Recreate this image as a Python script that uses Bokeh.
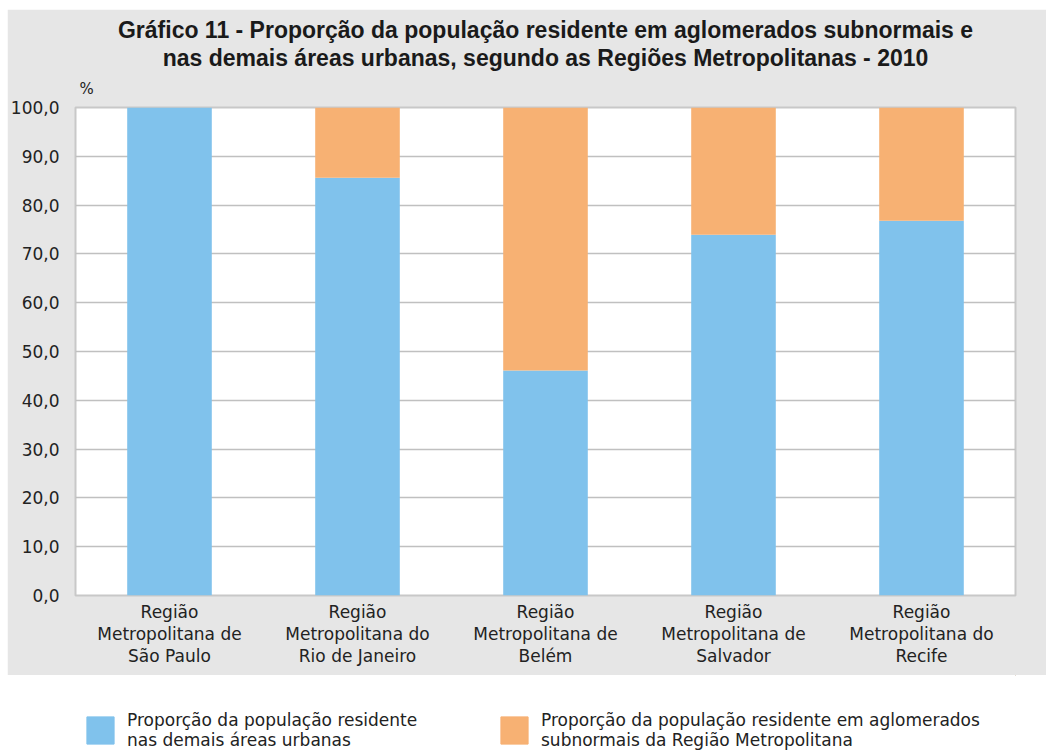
from bokeh.plotting import figure
from bokeh.models import (ColumnDataSource, FactorRange, Range1d, FixedTicker,
                          Title, Legend, LegendItem)
from bokeh.layouts import column
from bokeh.embed import file_html
from bokeh.resources import INLINE

# Regions (multi-line tick labels)
regions = [
    "Região\nMetropolitana de\nSão Paulo",
    "Região\nMetropolitana do\nRio de Janeiro",
    "Região\nMetropolitana de\nBelém",
    "Região\nMetropolitana de\nSalvador",
    "Região\nMetropolitana do\nRecife",
]
# Share of residents in the other urban areas (%)
demais_areas = [100.0, 85.6, 46.1, 73.9, 76.8]
# Share of residents in subnormal agglomerations (%)
aglomerados = [0.0, 14.4, 53.9, 26.1, 23.2]

y_ticks = [0, 10, 20, 30, 40, 50, 60, 70, 80, 90, 100]
y_tick_labels = ["0,0", "10,0", "20,0", "30,0", "40,0", "50,0",
                 "60,0", "70,0", "80,0", "90,0", "100,0"]

title_line1 = "Gráfico 11 - Proporção da população residente em aglomerados subnormais e"
title_line2 = "nas demais áreas urbanas, segundo as Regiões Metropolitanas - 2010"
label_demais = "Proporção da população residente\nnas demais áreas urbanas"
label_aglom = "Proporção da população residente em aglomerados\nsubnormais da Região Metropolitana"

BLUE = "#80c2ec"
ORANGE = "#f7b173"
PANEL = "#e6e6e6"
BODY_FONT = "DejaVu Sans"
TEXT = "#222222"

source = ColumnDataSource(dict(regiao=regions, demais=demais_areas, aglom=aglomerados))

p = figure(
    width=1039, height=666,
    x_range=FactorRange(*regions), y_range=Range1d(0, 100),
    output_backend="svg", toolbar_location=None,
    min_border_left=67, min_border_right=31, min_border_top=98, min_border_bottom=80,
)
p.margin = (9, 0, 0, 7)
p.border_fill_color = PANEL
p.background_fill_color = "white"
p.outline_line_color = "#c8c8c8"
p.outline_line_width = 2

p.vbar_stack(["demais", "aglom"], x="regiao", width=0.45, source=source,
             color=[BLUE, ORANGE], line_color=None)

# Unit marker and two-line heading above the frame (innermost first)
p.add_layout(Title(text="%", align="left", offset=4, standoff=19,
                   text_font=BODY_FONT, text_font_size="15px",
                   text_font_style="normal", text_color=TEXT), "above")
for line, gap in [(title_line2, -5), (title_line1, 6)]:
    p.add_layout(Title(text=line, align="center", standoff=gap,
                       text_font="Liberation Sans", text_font_size="23px",
                       text_font_style="bold", text_line_height=0.9,
                       text_color="#1a1a1a"), "above")

# Y axis
p.yaxis.ticker = FixedTicker(ticks=y_ticks)
p.yaxis.major_label_overrides = {t: s for t, s in zip(y_ticks, y_tick_labels)}
p.yaxis.axis_line_color = None
p.yaxis.major_tick_line_color = None
p.yaxis.minor_tick_line_color = None
p.yaxis.major_label_standoff = 10
p.yaxis.major_label_text_font = BODY_FONT
p.yaxis.major_label_text_font_size = "17px"
p.yaxis.major_label_text_color = TEXT

# X axis
p.xaxis.axis_line_color = None
p.xaxis.major_tick_line_color = None
p.xaxis.minor_tick_line_color = None
p.xaxis.major_label_standoff = 0
p.xaxis.major_label_text_font = BODY_FONT
p.xaxis.major_label_text_font_size = "17px"
p.xaxis.major_label_text_line_height = 1.12
p.xaxis.major_label_text_color = TEXT

p.xgrid.grid_line_color = None
p.ygrid.grid_line_color = "#c0c0c0"
p.ygrid.grid_line_width = 1.5

# Legend strip below the panel
q = figure(width=1046, height=79, x_range=Range1d(0, 1), y_range=Range1d(0, 1),
           output_backend="svg", toolbar_location=None,
           x_axis_location=None, y_axis_location=None,
           min_border_left=0, min_border_right=0, min_border_top=0, min_border_bottom=0)
q.border_fill_color = "white"
q.background_fill_color = "white"
q.outline_line_color = None
q.xgrid.grid_line_color = None
q.ygrid.grid_line_color = None

# Off-range proxies that only supply legend swatches
r_blue = q.vbar(x=[5], top=[5], bottom=[4], width=0.1, color=BLUE)
r_orange = q.vbar(x=[5], top=[5], bottom=[4], width=0.1, color=ORANGE)

for renderer, text, xpos in [(r_blue, label_demais, 15), (r_orange, label_aglom, 429)]:
    leg = Legend(items=[LegendItem(label=text, renderers=[renderer])],
                 location=(xpos, 4), padding=0, margin=0,
                 border_line_color=None, background_fill_alpha=0,
                 glyph_width=34, glyph_height=34, label_standoff=10,
                 label_text_font=BODY_FONT, label_text_font_size="17px",
                 label_text_color=TEXT)
    q.add_layout(leg)

layout = column(p, q, spacing=0)
open("out.html", "w").write(file_html(layout, INLINE))
